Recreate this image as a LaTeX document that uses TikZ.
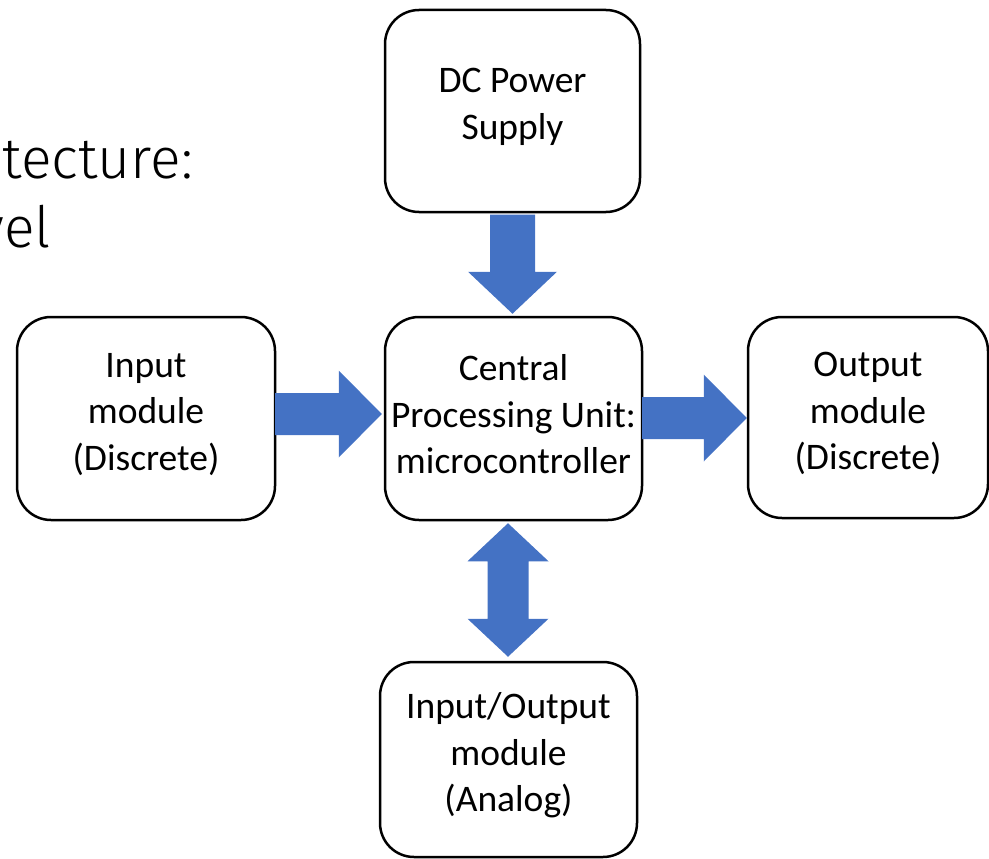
\documentclass[tikz,border=0pt]{standalone}
\usepackage{fontspec}
\setmainfont{Carlito}
\newfontfamily\titlefont{Fira Sans Light}
\usetikzlibrary{calc}

\definecolor{arrowblue}{HTML}{4472C4}

\tikzset{
  block/.style={draw=black, line width=2.5pt, rounded corners=34pt, fill=white,
    align=center, inner sep=0pt, font=\fontsize{37.5}{46.5}\selectfont},
  heading/.style={inner sep=0pt, font=\titlefont\fontsize{57}{69}\selectfont},
  lift/.style={yshift=4pt},
}

% block arrow pointing right: #1 tail, #2 tip
\newcommand\blockright[2]{%
  \fill[arrowblue] let \p1=(#1), \p2=(#2) in
    (\x1,\y1+21pt) -- (\x2-43pt,\y1+21pt) -- (\x2-43pt,\y1+43.5pt) --
    (\x2,\y1) -- (\x2-43pt,\y1-43.5pt) -- (\x2-43pt,\y1-21pt) --
    (\x1,\y1-21pt) -- cycle;}
% block arrow pointing down: #1 tail, #2 tip
\newcommand\blockdown[2]{%
  \fill[arrowblue] let \p1=(#1), \p2=(#2) in
    (\x1-22.5pt,\y1) -- (\x1-22.5pt,\y2+42pt) -- (\x1-44.5pt,\y2+42pt) --
    (\x1,\y2) -- (\x1+44.5pt,\y2+42pt) -- (\x1+22.5pt,\y2+42pt) --
    (\x1+22.5pt,\y1) -- cycle;}
% double-headed vertical block arrow between #1 (top tip) and #2 (bottom tip)
\newcommand\blockupdown[2]{%
  \fill[arrowblue] let \p1=(#1), \p2=(#2) in
    (\x1,\y1) -- (\x1+40.5pt,\y1-38pt) -- (\x1+20.5pt,\y1-38pt) --
    (\x1+20.5pt,\y2+38pt) -- (\x1+40.5pt,\y2+38pt) -- (\x1,\y2) --
    (\x1-40.5pt,\y2+38pt) -- (\x1-20.5pt,\y2+38pt) --
    (\x1-20.5pt,\y1-38pt) -- (\x1-40.5pt,\y1-38pt) -- cycle;}

\begin{document}
\begin{tikzpicture}[x=1pt, y=-1pt]
  \useasboundingbox (0,0) rectangle (989,859);
  \clip (0,0) rectangle (989,859);

  % heading fragments at the left edge
  \node[heading, anchor=base east] (t1) at (193,178) {tecture:};
  \node[heading, anchor=base east] (t2) at (51,247) {vel};

  % block outlines
  \node[block, minimum width=255pt, minimum height=202pt] (dc)  at (512.5,111)   {};
  \node[block, minimum width=257pt, minimum height=203pt] (cpu) at (513.5,418.5) {};
  \node[block, minimum width=258pt, minimum height=203pt] (in)  at (146,418.5)   {};
  \node[block, minimum width=240pt, minimum height=201pt] (out) at (868,417.5)   {};
  \node[block, minimum width=257pt, minimum height=195pt] (io)  at (508.5,759.5) {};

  % block captions, set slightly above each block's centre
  \node[block, draw=none, fill=none, lift] (dct)  at (dc)  {DC Power\\Supply};
  \node[block, draw=none, fill=none, lift] (cput) at (cpu) {Central\\Processing Unit:\\microcontroller};
  \node[block, draw=none, fill=none, lift] (int)  at (in)  {Input\\module\\(Discrete)};
  \node[block, draw=none, fill=none, lift] (outt) at (out) {Output\\module\\(Discrete)};
  \node[block, draw=none, fill=none, lift] (iot)  at (io)  {Input/Output\\module\\(Analog)};

  % connectors
  \coordinate (dcfoot) at ($(dc.south)+(0,1.25)$);
  \coordinate (cputop) at ($(cpu.north)+(0,-2)$);
  \blockdown{dcfoot}{cputop}

  \coordinate (inend) at ($(in.east)+(-1.25,-4.5)$);
  \coordinate (cpuin) at ($(cpu.west)+(-2,-4.5)$);
  \blockright{inend}{cpuin}

  \coordinate (cpuout) at ($(cpu.east)+(-1.25,-0.5)$);
  \coordinate (outin) at ($(out.west)+(0,-0.5)$);
  \blockright{cpuout}{outin}

  \coordinate (cpubot) at ($(cpu.south)+(-5.5,2)$);
  \coordinate (iotop) at ($(io.north)+(0,-4)$);
  \blockupdown{cpubot}{iotop}
\end{tikzpicture}
\end{document}
